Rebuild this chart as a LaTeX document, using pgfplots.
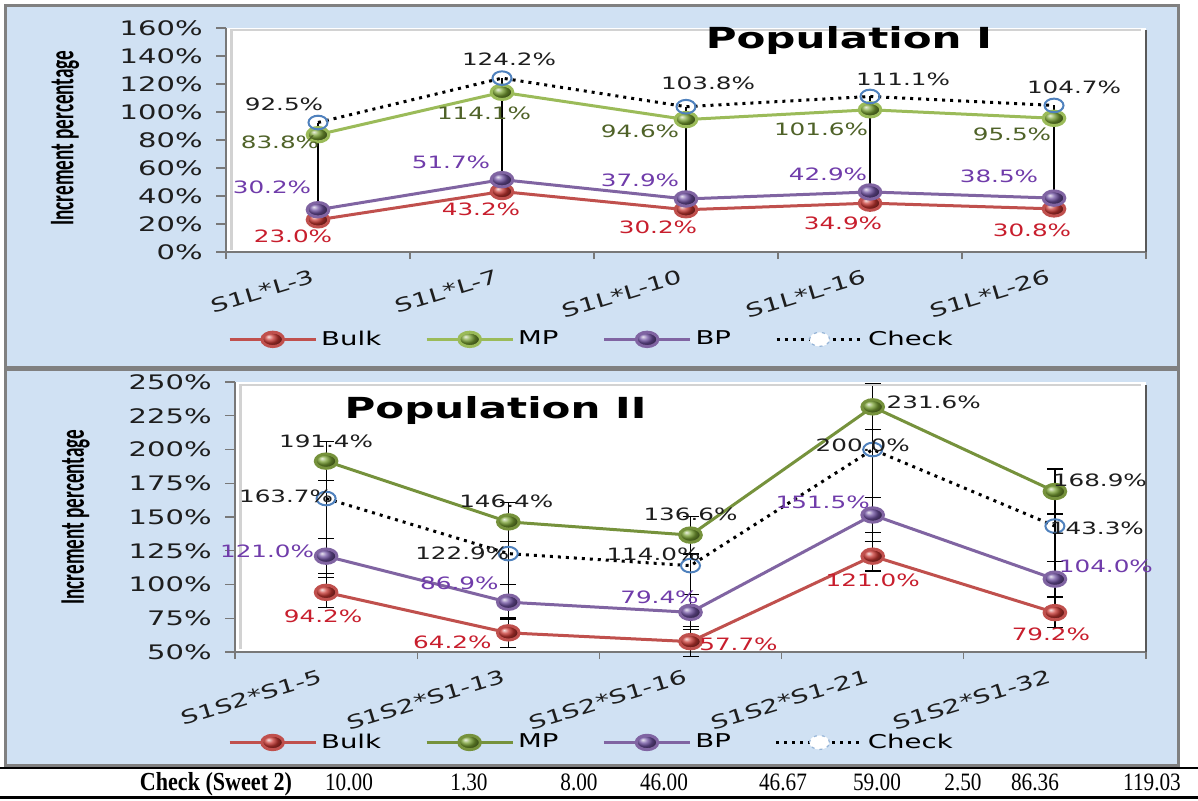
\documentclass[border=0pt]{standalone}
\usepackage{pgfplots}
\pgfplotsset{compat=1.18}
\usepackage{pgfplotstable}
\usepackage{fontspec}
\setmainfont{DejaVu Sans}[FakeStretch=1.45]
\newfontfamily\ylabfont{Carlito}
\newfontfamily\tabfont{Liberation Serif}[FakeStretch=0.85]
\definecolor{bgblue}{RGB}{208,225,243}
\definecolor{framegray}{RGB}{128,128,128}
\definecolor{axgray}{RGB}{120,120,120}
\definecolor{bulkline}{RGB}{192,80,77}
\definecolor{bulkball}{RGB}{200,55,50}
\definecolor{bulklab}{RGB}{200,30,45}
\definecolor{mplineA}{RGB}{155,187,89}
\definecolor{mplineB}{RGB}{118,146,60}
\definecolor{mpball}{RGB}{120,160,50}
\definecolor{mplab}{RGB}{79,98,40}
\definecolor{bpline}{RGB}{128,100,162}
\definecolor{bpball}{RGB}{110,80,160}
\definecolor{bplab}{RGB}{112,60,170}
\definecolor{chkblue}{RGB}{79,129,189}
\definecolor{labdark}{RGB}{30,30,30}

% Population I
\pgfplotstableread{
x bulk bdx bdy bp pdx pdy mp mdx mdy merr chk cdx cdy hl
0 23.0 -12.5 -8    30.2 -23   11  83.8  -19   -4    3.5 92.5  -17  9    69.5
1 43.2 -10.5 -8.75 51.7 -25.5 8.5 114.1 -9    -10.5 3.5 124.2 3.5  9.5  81.0
2 30.2 -14   -9    37.9 -23   9.5 94.6  -23   -6    3.5 103.8 11   11.5 73.6
3 34.9 -13.5 -10   42.9 -21   9   101.6 -24.5 -10   3.5 111.1 16.5 8.5  76.2
4 30.8 -11   -10.5 38.5 -27.5 11  95.5  -21   -8    3.5 104.7 10   9    73.9
}\popone
% Population II
\pgfplotstableread{
x bulk bdx bdy berr bp pdx pdy perr mp mdx mdy merr chk cdx cdy hl
0 94.2  -1.5 -12  11 121.0 -29.5 2.5 13 191.4 0    10   14.6 163.7 -20   1   97.2
1 64.2  -28  -4.5 11 86.9  -24.5 9.5 13 146.4 -1   10.5 14.6 122.9 -23   0   82.2
2 57.7  24   -1.5 11 79.4  -15.5 7.5 13 136.6 0    10.5 14   114.0 -18.5 5.5 78.9
3 121.0 0    -12  11 151.5 -25   6.5 13 231.6 30.5 2.5  17   200.0 -5    2   110.6
4 79.2  -2   -11  11 104.0 25.5  6.5 13 168.9 22.5 5.5  16.7 143.3 21    -1  89.7
}\poptwo

\pgfplotsset{
  /pgf/number format/assume math mode=true,
  panel/.style={
    scale only axis,
    anchor=south west,
    xmin=-0.5, xmax=4.5,
    xtick={0,...,4},
    minor xtick={-0.5,0.5,...,4.5},
    major x tick style={draw=none},
    minor x tick style={axgray, line width=0.6pt},
    ytick style={axgray, line width=0.6pt},
    major tick length=5pt,
    minor tick length=3.5pt,
    tick align=outside,
    axis x line*=bottom, axis y line*=left,
    axis line style={axgray, line width=0.6pt, -},
    axis background/.style={fill=white},
    clip=false,
    yticklabel={\pgfmathprintnumber{\tick}\%},
    yticklabel style={font=\fontsize{10}{11}\selectfont, text=labdark, anchor=east, inner sep=0pt, xshift=-6.5pt},
    xticklabel style={font=\fontsize{9.5}{10}\selectfont, text=labdark, rotate=17, anchor=east, inner sep=0pt, yshift=-6pt, xshift=-4pt},
    every axis title shift=0pt,
    title style={font=\bfseries\fontsize{14.5}{16}\selectfont, anchor=center},
    ylabel={\scalebox{1}[1.8]{Increment percentage}},
    ylabel style={font=\ylabfont\bfseries\fontsize{9.6}{11}\selectfont, anchor=center},
    legend columns=4,
    legend cell align=left,
    legend style={draw=none, fill=none, anchor=west, inner xsep=0pt, font=\fontsize{9.5}{10}\selectfont,
      /tikz/every even column/.append style={column sep=20pt}},
    legend image code/.code={\draw[mark repeat=2,mark phase=2,#1] plot coordinates {(0pt,0pt) (21.5pt,0pt) (43pt,0pt)};},
  },
  lab/.style={point meta=y,
    nodes near coords={\pgfmathprintnumber[fixed,fixed zerofill,precision=1]{\pgfplotspointmeta}\%},
    nodes near coords style={font=\fontsize{8.5}{10}\selectfont, text=#1, anchor=center, inner sep=0pt, xshift=\dx pt, yshift=\dy pt}},
  ballser/.style 2 args={line width=1.5pt, color=#1, mark=ball, mark size=3.6pt, mark options={xscale=1.5, ball color=#2}},
  chkser/.style={black, line width=1.5pt, dash pattern=on 1.5pt off 2.5pt, mark=o, mark size=3.4pt,
    mark options={solid, xscale=1.4, draw=chkblue, line width=1pt, fill=none},
    legend image code/.code={\draw[black, line width=1.5pt, dash pattern=on 1.5pt off 2.5pt] (0pt,0pt) -- (43pt,0pt);
      \draw[chkblue!60, line width=0.6pt, fill=white] (21.5pt,0pt) ellipse [x radius=5pt, y radius=3.5pt];}},
  ebars/.style={error bars/y dir=both, error bars/y explicit,
    error bars/error bar style={black, line width=0.6pt, solid},
    error bars/error mark options={rotate=90, black, mark size=4pt, line width=0.6pt, solid}},
  hilo/.style={forget plot, draw=none, mark=none,
    error bars/y dir=minus, error bars/y explicit,
    error bars/error bar style={black, line width=0.6pt, solid}, error bars/error mark=none},
}

\begin{document}
\begin{tikzpicture}
\fill[white] (0pt,0pt) rectangle (599pt,-400pt);
\draw[framegray, line width=1.5pt, fill=bgblue] (2.5pt,-2.5pt) rectangle (589pt,-183.5pt);
\draw[framegray, line width=1.5pt, fill=bgblue] (2.5pt,-184.5pt) rectangle (589pt,-382.5pt);
\draw[black, line width=1pt] (0pt,-383.8pt) -- (599pt,-383.8pt);
\draw[black, line width=1.5pt] (0pt,-398.5pt) -- (599pt,-398.5pt);

\begin{axis}[panel, at={(113pt,-126pt)}, width=460pt, height=112pt,
  ymin=0, ymax=160, ytick={0,20,...,160},
  xticklabels={S1L*L-3,S1L*L-7,S1L*L-10,S1L*L-16,S1L*L-26},
  title={Population I}, title style={at={(axis description cs:0.677,0.946)}},
  ylabel style={at={(axis description cs:-0.175,0.509)}},
  legend style={at={(axis description cs:0.002,-0.39)}}]
\addplot[hilo] table[x=x, y=chk, y error=hl] {\popone};
\addplot[ballser={bulkline}{bulkball}, lab=bulklab,
  visualization depends on={\thisrow{bdx} \as \dx}, visualization depends on={\thisrow{bdy} \as \dy}]
  table[x=x, y=bulk] {\popone};
\addplot[ballser={mplineA}{mpball}, lab=mplab, ebars,
  visualization depends on={\thisrow{mdx} \as \dx}, visualization depends on={\thisrow{mdy} \as \dy}]
  table[x=x, y=mp, y error=merr] {\popone};
\addplot[ballser={bpline}{bpball}, lab=bplab,
  visualization depends on={\thisrow{pdx} \as \dx}, visualization depends on={\thisrow{pdy} \as \dy}]
  table[x=x, y=bp] {\popone};
\addplot[chkser, lab=labdark,
  visualization depends on={\thisrow{cdx} \as \dx}, visualization depends on={\thisrow{cdy} \as \dy}]
  table[x=x, y=chk] {\popone};
\legend{Bulk,MP,BP,Check}
\draw[gray!70!black, line width=1pt] (rel axis cs:1,0) -- (rel axis cs:1,0.99);
\draw[gray!35, line width=1.2pt] (rel axis cs:0.006,0.01) -- (rel axis cs:0.006,0.99) -- (rel axis cs:0.995,0.99);
\end{axis}

\begin{axis}[panel, at={(117.5pt,-326pt)}, width=455.5pt, height=135pt,
  ymin=50, ymax=250, ytick={50,75,...,250},
  xticklabels={S1S2*S1-5,S1S2*S1-13,S1S2*S1-16,S1S2*S1-21,S1S2*S1-32},
  title={Population II}, title style={at={(axis description cs:0.286,0.896)}},
  ylabel style={at={(axis description cs:-0.175,0.5)}},
  legend style={at={(axis description cs:-0.008,-0.335)}}]
\addplot[hilo] table[x=x, y=mp, y error=hl] {\poptwo};
\addplot[ballser={bulkline}{bulkball}, lab=bulklab, ebars,
  visualization depends on={\thisrow{bdx} \as \dx}, visualization depends on={\thisrow{bdy} \as \dy}]
  table[x=x, y=bulk, y error=berr] {\poptwo};
\addplot[ballser={mplineB}{mpball}, lab=labdark, ebars,
  visualization depends on={\thisrow{mdx} \as \dx}, visualization depends on={\thisrow{mdy} \as \dy}]
  table[x=x, y=mp, y error=merr] {\poptwo};
\addplot[ballser={bpline}{bpball}, lab=bplab, ebars,
  visualization depends on={\thisrow{pdx} \as \dx}, visualization depends on={\thisrow{pdy} \as \dy}]
  table[x=x, y=bp, y error=perr] {\poptwo};
\addplot[chkser, lab=labdark,
  visualization depends on={\thisrow{cdx} \as \dx}, visualization depends on={\thisrow{cdy} \as \dy}]
  table[x=x, y=chk] {\poptwo};
\legend{Bulk,MP,BP,Check}
\draw[gray!70!black, line width=1pt] (rel axis cs:1,0) -- (rel axis cs:1,0.99);
\draw[gray!35, line width=1.2pt] (rel axis cs:0.006,0.01) -- (rel axis cs:0.006,0.99) -- (rel axis cs:0.995,0.99);
\end{axis}

\node[font=\tabfont\bfseries\fontsize{13}{14}\selectfont, anchor=base] at (108pt,-395pt) {Check (Sweet 2)};
\foreach \v/\xx in {10.00/349,1.30/469,8.00/579,46.00/664,46.67/783,59.00/877,2.50/963,86.36/1035,119.03/1152}
  \node[font=\tabfont\fontsize{12.5}{14}\selectfont, anchor=base] at (\xx*0.5pt,-395pt) {\v};

\pgfresetboundingbox
\path[use as bounding box] (0pt,0pt) rectangle (599pt,-400pt);
\end{tikzpicture}
\end{document}
